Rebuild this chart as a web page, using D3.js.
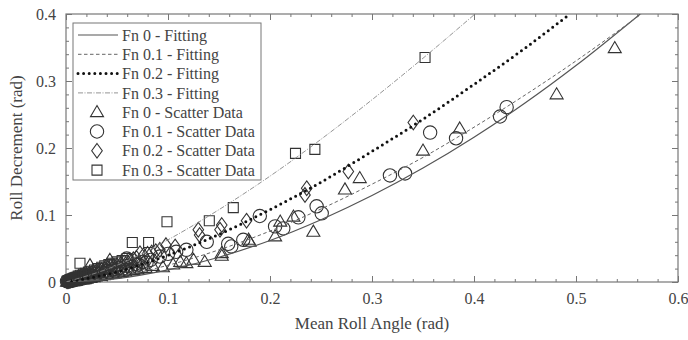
<!DOCTYPE html>
<html><head><meta charset="utf-8">
<script src="https://cdn.jsdelivr.net/npm/d3@7"></script>
<style>
html,body{margin:0;padding:0;background:#fff;}
svg{display:block;}
svg text{font-family:"Liberation Serif","Times New Roman","DejaVu Serif",serif !important;fill:#444;}
</style></head>
<body>
<svg id="chart" width="688" height="340"></svg>
<script>
// ---------- data ----------
const xTicks = [0, 0.1, 0.2, 0.3, 0.4, 0.5, 0.6];
const yTicks = [0, 0.1, 0.2, 0.3, 0.4];
const xTickLabels = ["0", "0.1", "0.2", "0.3", "0.4", "0.5", "0.6"];
const yTickLabels = ["0", "0.1", "0.2", "0.3", "0.4"];

const seriesNames = ["Fn 0", "Fn 0.1", "Fn 0.2", "Fn 0.3"];

// fitted curves
const fit0X = [0, 0.05, 0.1, 0.15, 0.2, 0.25, 0.3, 0.35, 0.4, 0.45, 0.5, 0.563];
const fit0Y = [0, 0.005, 0.018, 0.037, 0.062, 0.093, 0.129, 0.170, 0.216, 0.267, 0.323, 0.4];
const fit1X = [0, 0.05, 0.1, 0.15, 0.2, 0.25, 0.3, 0.35, 0.4, 0.45, 0.5, 0.564];
const fit1Y = [0, 0.008, 0.025, 0.048, 0.076, 0.109, 0.146, 0.186, 0.231, 0.279, 0.330, 0.4];
const fit2X = [0, 0.05, 0.1, 0.15, 0.2, 0.25, 0.3, 0.35, 0.4, 0.45, 0.494];
const fit2Y = [0, 0.015, 0.040, 0.071, 0.108, 0.149, 0.195, 0.243, 0.295, 0.349, 0.4];
const fit3X = [0, 0.05, 0.1, 0.15, 0.2, 0.25, 0.3, 0.35, 0.401];
const fit3Y = [0, 0.025, 0.063, 0.108, 0.158, 0.213, 0.272, 0.334, 0.4];

// scatter data
const sc0X = [0.001,0.002,0.003,0.004,0.005,0.006,0.007,0.008,0.009,0.01,0.011,0.012,0.014,0.016,0.018,0.02,0.022,0.024,0.027,0.029,0.032,0.034,0.037,0.04,0.042,0.046,0.048,0.052,0.055,0.058,0.062,0.066,0.07,0.074,0.078,0.085,0.095,0.105,0.112,0.118,0.125,0.136,0.043,0.0235,
              0.1527,0.1527,0.179,0.180,0.205,0.21,0.223,0.2425,0.2735,0.288,0.350,0.386,0.481,0.538];
const sc0Y = [0.0005,0.001,0.001,0.001,0.002,0.002,0.002,0.002,0.003,0.003,0.003,0.003,0.004,0.004,0.004,0.005,0.006,0.006,0.007,0.008,0.009,0.009,0.010,0.011,0.012,0.012,0.013,0.014,0.015,0.016,0.017,0.018,0.019,0.020,0.021,0.024,0.022,0.026,0.030,0.028,0.033,0.030,0.033,0.025,
              0.039,0.043,0.063,0.060,0.068,0.090,0.0975,0.075,0.138,0.155,0.196,0.229,0.280,0.349];
const sc1X = [0.001,0.002,0.003,0.004,0.005,0.006,0.007,0.008,0.009,0.010,0.012,0.013,0.015,0.016,0.018,0.02,0.022,0.025,0.027,0.03,0.032,0.035,0.038,0.04,0.043,0.046,0.049,0.052,0.056,0.06,0.064,0.068,0.071,0.075,0.079,0.083,0.092,0.1,0.108,0.118,0.0595,
              0.138,0.159,0.162,0.1738,0.190,0.205,0.213,0.2278,0.2457,0.2507,0.3176,0.3324,0.357,0.3824,0.4255,0.432];
const sc1Y = [0.001,0.001,0.001,0.002,0.002,0.002,0.003,0.004,0.003,0.004,0.005,0.004,0.005,0.006,0.006,0.008,0.007,0.010,0.009,0.012,0.011,0.014,0.013,0.016,0.015,0.019,0.017,0.021,0.020,0.024,0.023,0.027,0.026,0.030,0.029,0.033,0.038,0.042,0.045,0.048,0.035,
              0.060,0.057,0.053,0.063,0.0985,0.083,0.080,0.0965,0.113,0.1025,0.159,0.162,0.223,0.2145,0.247,0.261];
const sc2X = [0.001,0.002,0.003,0.004,0.005,0.006,0.007,0.008,0.009,0.011,0.012,0.013,0.015,0.017,0.02,0.022,0.025,0.027,0.03,0.033,0.035,0.038,0.041,0.044,0.047,0.05,0.054,0.057,0.06,0.063,0.066,0.069,0.0725,0.076,0.08,0.084,0.088,0.092,0.098,0.107,
              0.1297,0.131,0.151,0.1527,0.177,0.2343,0.236,0.2768,0.3405];
const sc2Y = [0.001,0.001,0.002,0.002,0.003,0.003,0.004,0.004,0.005,0.006,0.006,0.007,0.008,0.009,0.010,0.011,0.013,0.014,0.016,0.017,0.018,0.019,0.021,0.023,0.024,0.025,0.027,0.029,0.030,0.032,0.034,0.036,0.043,0.040,0.042,0.044,0.046,0.048,0.055,0.053,
              0.078,0.070,0.078,0.085,0.0915,0.130,0.140,0.165,0.238];
const sc3X = [0.001,0.002,0.003,0.004,0.005,0.006,0.007,0.008,0.009,0.010,0.012,0.014,0.017,0.019,0.022,0.025,0.028,0.031,0.035,0.038,0.042,0.045,0.05,0.055,0.06,
              0.0137,0.065,0.081,0.099,0.1405,0.164,0.225,0.244,0.352];
const sc3Y = [0.001,0.002,0.002,0.003,0.003,0.004,0.005,0.006,0.006,0.007,0.009,0.010,0.012,0.013,0.015,0.016,0.018,0.020,0.022,0.024,0.026,0.028,0.030,0.032,0.035,
              0.028,0.059,0.059,0.090,0.0915,0.111,0.192,0.198,0.335];

// ---------- layout ----------
const svg = d3.select("#chart");
const mLeft = 66, mRight = 678, mTop = 14, mBottom = 282;
const x = d3.scaleLinear().domain([0, 0.6]).range([mLeft, mRight]);
const y = d3.scaleLinear().domain([0, 0.4]).range([mBottom, mTop]);
const axisColor = "#777";
const fontFam = "'Liberation Serif','Times New Roman','DejaVu Serif',serif";

svg.append("defs").append("clipPath").attr("id", "clip")
  .append("rect").attr("x", mLeft).attr("y", mTop).attr("width", mRight - mLeft).attr("height", mBottom - mTop);

const xMinor = d3.range(0, 0.6001, 0.02);
const yMinor = d3.range(0, 0.4001, 0.02);
function styleAxis(g) {
  g.attr("font-family", fontFam);
  g.select(".domain").remove();
  g.selectAll("line").attr("stroke", axisColor).attr("stroke-width", 1);
}
svg.append("g").attr("transform", `translate(0,${mBottom})`)
  .call(d3.axisBottom(x).tickValues(xMinor).tickSize(-3).tickFormat(""))
  .call(styleAxis);
svg.append("g").attr("transform", `translate(0,${mBottom})`)
  .call(d3.axisBottom(x).tickValues(xTicks).tickSize(-6).tickPadding(11).tickFormat((d, i) => xTickLabels[i]))
  .call(styleAxis)
  .call(g => g.selectAll("text").attr("font-size", 16).attr("fill", "#444"));
svg.append("g").attr("transform", `translate(0,${mTop})`)
  .call(d3.axisTop(x).tickValues(xMinor).tickSize(-3).tickFormat("")).call(styleAxis);
svg.append("g").attr("transform", `translate(0,${mTop})`)
  .call(d3.axisTop(x).tickValues(xTicks).tickSize(-6).tickFormat("")).call(styleAxis);
svg.append("g").attr("transform", `translate(${mLeft},0)`)
  .call(d3.axisLeft(y).tickValues(yMinor).tickSize(-3).tickFormat("")).call(styleAxis);
svg.append("g").attr("transform", `translate(${mLeft},0)`)
  .call(d3.axisLeft(y).tickValues(yTicks).tickSize(-6).tickPadding(10).tickFormat((d, i) => yTickLabels[i]))
  .call(styleAxis)
  .call(g => g.selectAll("text").attr("font-size", 16).attr("fill", "#444"));
svg.append("g").attr("transform", `translate(${mRight},0)`)
  .call(d3.axisRight(y).tickValues(yMinor).tickSize(-3).tickFormat("")).call(styleAxis);
svg.append("g").attr("transform", `translate(${mRight},0)`)
  .call(d3.axisRight(y).tickValues(yTicks).tickSize(-6).tickFormat("")).call(styleAxis);

svg.append("rect").attr("x", mLeft).attr("y", mTop).attr("width", mRight - mLeft).attr("height", mBottom - mTop)
  .attr("fill", "none").attr("stroke", axisColor).attr("stroke-width", 1.2);

svg.append("text").attr("x", (mLeft + mRight) / 2).attr("y", 329).attr("text-anchor", "middle")
  .attr("font-family", fontFam).attr("font-size", 17).text("Mean Roll Angle (rad)");
svg.append("text").attr("transform", `translate(22,${(mTop + mBottom) / 2}) rotate(-90)`)
  .attr("font-family", fontFam).attr("text-anchor", "middle").attr("font-size", 17).text("Roll Decrement (rad)");

// ---------- fitted curves ----------
const lineStyles = [
  { stroke: "#555", width: 1.2, dash: null, cap: "butt" },
  { stroke: "#666", width: 1, dash: "3.5 2.5", cap: "butt" },
  { stroke: "#111", width: 3, dash: "0 5.6", cap: "round" },
  { stroke: "#888", width: 0.9, dash: "5 1.5 1 1.5", cap: "butt" }
];
const fits = [[fit0X, fit0Y], [fit1X, fit1Y], [fit2X, fit2Y], [fit3X, fit3Y]];
const line = d3.line().x(d => x(d[0])).y(d => y(d[1])).curve(d3.curveMonotoneX);

// ---------- scatter ----------
const diamondType = {
  draw(ctx, size) {
    const h = Math.sqrt(size) * 0.62, w = h * 0.72;
    ctx.moveTo(0, -h); ctx.lineTo(w, 0); ctx.lineTo(0, h); ctx.lineTo(-w, 0); ctx.closePath();
  }
};
const triType = {
  draw(ctx, size) {
    const s = Math.sqrt(size);
    const hh = s * 0.85;
    ctx.moveTo(0, -hh * 0.6); ctx.lineTo(s / 2, hh * 0.4); ctx.lineTo(-s / 2, hh * 0.4); ctx.closePath();
  }
};
const symbols = [
  d3.symbol().type(triType).size(170),
  d3.symbol().type(d3.symbolCircle).size(140),
  d3.symbol().type(diamondType).size(140),
  d3.symbol().type(d3.symbolSquare).size(100)
];
const scatters = [[sc0X, sc0Y], [sc1X, sc1Y], [sc2X, sc2Y], [sc3X, sc3Y]];
const markerColor = "#333";
const markG = svg.append("g");
scatters.forEach((s, k) => {
  const pts = s[0].map((v, i) => [v, s[1][i]]);
  markG.append("g").selectAll("path").data(pts).join("path")
    .attr("d", symbols[k]())
    .attr("transform", d => `translate(${x(d[0])},${y(d[1])})`)
    .attr("fill", "none").attr("stroke", markerColor).attr("stroke-width", 1.1);
});
const plotG = svg.append("g").attr("clip-path", "url(#clip)");
fits.forEach((f, k) => {
  const pts = f[0].map((v, i) => [v, f[1][i]]);
  const st = lineStyles[k];
  plotG.append("path").datum(pts).attr("d", line)
    .attr("fill", "none").attr("stroke", st.stroke).attr("stroke-width", st.width)
    .attr("stroke-dasharray", st.dash).attr("stroke-linecap", st.cap);
});

// ---------- legend ----------
const lg = svg.append("g").attr("font-family", fontFam);
lg.append("rect").attr("x", 73).attr("y", 23).attr("width", 188).attr("height", 157)
  .attr("fill", "#fff").attr("stroke", axisColor).attr("stroke-width", 1);
const rowY = i => 35 + i * 19.3;
seriesNames.forEach((n, k) => {
  const st = lineStyles[k];
  lg.append("line").attr("x1", 78).attr("x2", 118).attr("y1", rowY(k)).attr("y2", rowY(k))
    .attr("stroke", st.stroke).attr("stroke-width", st.width)
    .attr("stroke-dasharray", st.dash).attr("stroke-linecap", st.cap);
  lg.append("text").attr("x", 122).attr("y", rowY(k)).attr("dy", "0.35em")
    .attr("font-size", 16).text(n + " - Fitting");
});
seriesNames.forEach((n, k) => {
  const r = rowY(k + 4);
  lg.append("path").attr("d", symbols[k]()).attr("transform", `translate(97,${r})`)
    .attr("fill", "none").attr("stroke", markerColor).attr("stroke-width", 1.1);
  lg.append("text").attr("x", 122).attr("y", r).attr("dy", "0.35em")
    .attr("font-size", 16).text(n + " - Scatter Data");
});
</script>
</body></html>
